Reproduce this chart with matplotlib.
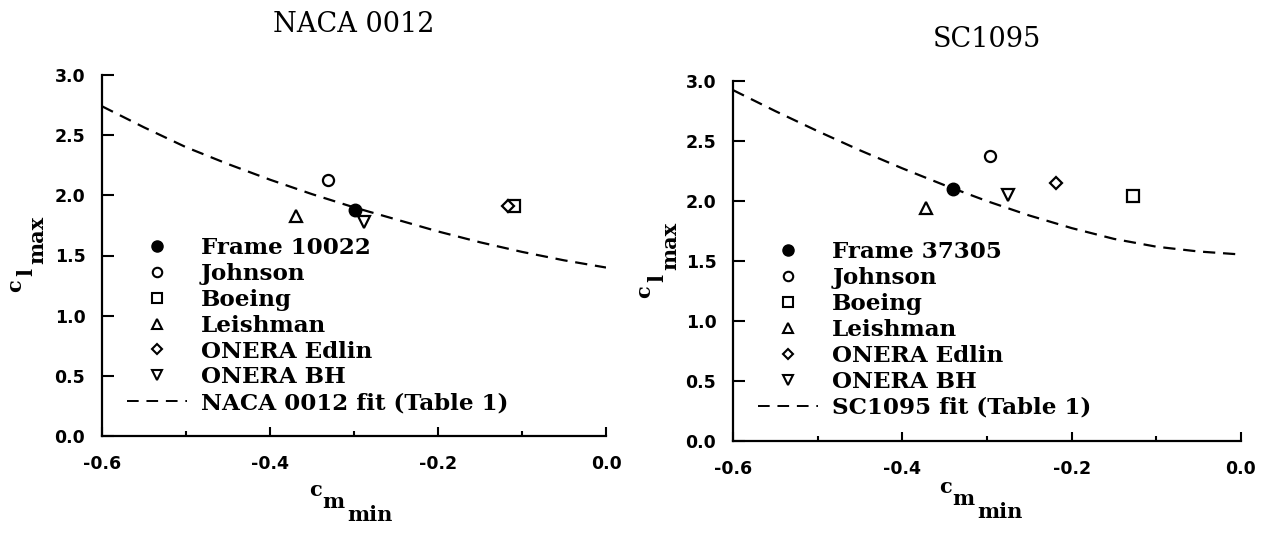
import numpy as np
import matplotlib
matplotlib.use("Agg")
import matplotlib.pyplot as plt
from matplotlib.ticker import MultipleLocator, FormatStrFormatter
from matplotlib.lines import Line2D

# data
sources = ["Johnson", "Boeing", "Leishman", "ONERA Edlin", "ONERA BH"]

naca_frame = (-0.299, 1.88)
naca_cm = [-0.331, -0.109, -0.369, -0.117, -0.288]
naca_cl = [2.13, 1.915, 1.83, 1.915, 1.775]
naca_fit_cm = [-0.6, -0.55, -0.5, -0.45, -0.4, -0.35, -0.3, -0.25, -0.2, -0.15, -0.1, -0.05, 0.0]
naca_fit_cl = [2.74, 2.565, 2.40, 2.26, 2.13, 2.01, 1.90, 1.80, 1.70, 1.61, 1.53, 1.46, 1.40]

sc_frame = (-0.340, 2.10)
sc_cm = [-0.296, -0.127, -0.372, -0.218, -0.275]
sc_cl = [2.37, 2.04, 1.94, 2.15, 2.045]
sc_fit_cm = [-0.6, -0.55, -0.5, -0.45, -0.4, -0.35, -0.3, -0.25, -0.2, -0.15, -0.1, -0.05, 0.0]
sc_fit_cl = [2.92, 2.745, 2.578, 2.418, 2.268, 2.127, 1.995, 1.875, 1.77, 1.68, 1.615, 1.575, 1.55]

markers = ["o", "s", "^", "D", "v"]
msizes = [8, 8, 8, 6.5, 8]

W, H = 1268, 537
fig = plt.figure(figsize=(W / 100, H / 100), dpi=100)
plt.rcParams["font.family"] = "DejaVu Serif"


def px_box(x0, x1, ytop, ybot):
    return [x0 / W, (H - ybot) / H, (x1 - x0) / W, (ybot - ytop) / H]


def stacked_label(pieces, rotation=0):
    # pieces: (text, x_px, y_px)
    for t, x, y in pieces:
        fig.text(x / W, 1 - y / H, t, fontsize=15, rotation=rotation, fontweight="bold",
                 ha="center", va="center", family="DejaVu Serif")


def panel(box, title, tpad, frame_label, frame, cms, cls, fit_cm, fit_cl, fit_label, leg_anchor):
    ax = fig.add_axes(box)
    ax.plot(fit_cm, fit_cl, color="black", lw=1.6, ls=(0, (5.5, 3.5)))
    ax.plot(frame[0], frame[1], "o", color="black", ms=9)
    for cm, cl, m, s in zip(cms, cls, markers, msizes):
        ax.plot(cm, cl, m, mfc="white", mec="black", mew=1.6, ms=s)
    ax.set_xlim(-0.6, 0.0)
    ax.set_ylim(0.0, 3.0)
    for sp in ["top", "right"]:
        ax.spines[sp].set_visible(False)
    for sp in ["left", "bottom"]:
        ax.spines[sp].set_linewidth(1.6)
    ax.xaxis.set_major_locator(MultipleLocator(0.2))
    ax.xaxis.set_minor_locator(MultipleLocator(0.1))
    ax.yaxis.set_major_locator(MultipleLocator(0.5))
    ax.xaxis.set_major_formatter(FormatStrFormatter("%.1f"))
    ax.yaxis.set_major_formatter(FormatStrFormatter("%.1f"))
    ax.tick_params(axis="both", which="both", direction="in", width=1.5)
    ax.tick_params(axis="y", which="major", length=8.5, pad=12)
    ax.tick_params(axis="x", which="major", length=6.5, pad=14)
    ax.tick_params(axis="x", which="minor", length=3.5)
    for lab in ax.get_xticklabels() + ax.get_yticklabels():
        lab.set_family("DejaVu Sans")
        lab.set_fontweight("bold")
        lab.set_fontsize(12.5)
    ax.set_title(title, fontsize=19.5, pad=tpad)

    handles = [Line2D([], [], ls="none", marker="o", color="black", ms=8)]
    for m, s in zip(markers, msizes):
        handles.append(Line2D([], [], ls="none", marker=m, mfc="white", mec="black", mew=1.5, ms=s * 0.85))
    handles.append(Line2D([], [], color="black", lw=1.4, ls=(0, (6, 4))))
    labels = [frame_label] + sources + [fit_label]
    leg = ax.legend(handles, labels, loc="lower left", bbox_to_anchor=leg_anchor, frameon=False,
                    fontsize=16.6, handlelength=2.6, handletextpad=0.6, labelspacing=0.17,
                    borderpad=0, borderaxespad=0)
    for t in leg.get_texts():
        t.set_fontweight("bold")
    return ax


panel(px_box(102, 606, 75, 436), "NACA 0012", 31, "Frame 10022", naca_frame,
      naca_cm, naca_cl, naca_fit_cm, naca_fit_cl, "NACA 0012 fit (Table 1)", (0.05, 0.06))
panel(px_box(733, 1241, 80.5, 440.5), "SC1095", 24, "Frame 37305", sc_frame,
      sc_cm, sc_cl, sc_fit_cm, sc_fit_cl, "SC1095 fit (Table 1)", (0.05, 0.06))

# axis labels with stacked subscripts
stacked_label([("c", 316, 490), ("m", 333, 502), ("min", 370, 515)])
stacked_label([("c", 946, 487), ("m", 963, 499), ("min", 1000, 512)])
stacked_label([("c", 15, 286), ("l", 26, 272), ("max", 37, 240)], rotation=90)
stacked_label([("c", 644, 292), ("l", 657, 278), ("max", 670, 246)], rotation=90)

fig.savefig("out.png", dpi=100)
